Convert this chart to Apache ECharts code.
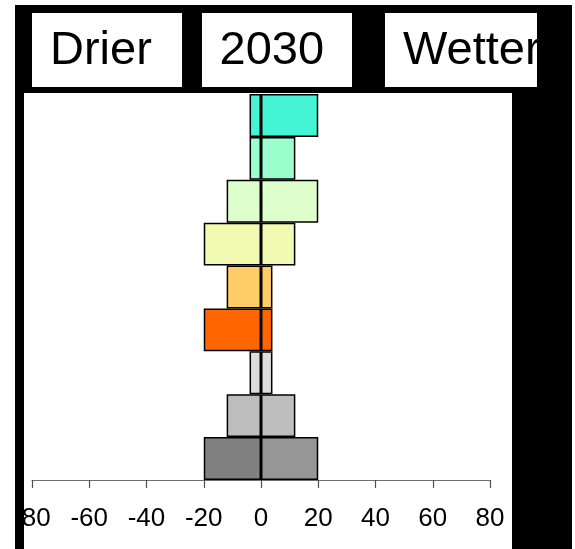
<!DOCTYPE html>
<html>
<head>
<meta charset="utf-8">
<script src="https://cdn.jsdelivr.net/npm/echarts@6/dist/echarts.min.js"></script>
<style>
  html, body { margin: 0; padding: 0; background: #ffffff; }
  #chart { width: 575px; height: 549px; }
</style>
</head>
<body>
<div id="chart"></div>
<script>
// Rows listed top to bottom
const rows = ['1', '2', '3', '4', '5', '6', '7', '8', '9'];
// Share of projections pointing drier (left) and wetter (right), per row
const drierValues = [-4, -4, -12, -20, -12, -20, -4, -12, -20];
const wetterValues = [20, 12, 20, 12, 4, 4, 4, 12, 20];
// Fill colours per row
const drierColors = ['#44F4D4', '#99FFCC', '#DDFFCC', '#F2F9B0', '#FFCC66', '#FF6600', '#DDDDDD', '#BEBEBE', '#808080'];
const wetterColors = ['#44F4D4', '#99FFCC', '#DDFFCC', '#F2F9B0', '#FFCC66', '#FF6600', '#DDDDDD', '#BEBEBE', '#969696'];
// Header labels
const headers = ['Drier', '2030', 'Wetter'];
const xTicks = [-80, -60, -40, -20, 0, 20, 40, 60, 80];

const chart = echarts.init(document.getElementById('chart'), null, { renderer: 'canvas' });

const font = '"Liberation Sans", Arial, sans-serif';

function barSeries(name, values, colors) {
  return {
    name: name,
    type: 'bar',
    stack: 'rows',
    barCategoryGap: 0,
    barWidth: '100%',
    data: values.map((v, i) => ({
      value: v,
      itemStyle: { color: colors[i] }
    })),
    itemStyle: { borderColor: '#000000', borderWidth: 1.5 },
    emphasis: { disabled: true },
    z: 2
  };
}

chart.setOption({
  animation: false,
  backgroundColor: '#ffffff',
  grid: { left: 32, right: 85, top: 94, bottom: 69, containLabel: false },
  xAxis: {
    type: 'value',
    min: xTicks[0],
    max: xTicks[xTicks.length - 1],
    interval: 20,
    axisLine: { show: true, onZero: false, lineStyle: { color: '#707070', width: 1.2 } },
    axisTick: { show: true, length: 8, lineStyle: { color: '#505050', width: 1.2 } },
    axisLabel: {
      show: true,
      color: '#000000',
      fontFamily: font,
      fontSize: 26,
      margin: 26,
      // plain hyphen-minus for negative ticks
      formatter: (v) => String(v)
    },
    splitLine: { show: false }
  },
  yAxis: {
    type: 'category',
    data: rows,
    inverse: true,
    show: false,
    boundaryGap: true
  },
  series: [
    barSeries('Drier', drierValues, drierColors),
    barSeries('Wetter', wetterValues, wetterColors)
  ],
  graphic: [
    // dark frame behind everything
    { type: 'rect', z: -10, shape: { x: 15, y: 5, width: 557, height: 544 }, style: { fill: '#000000' } },
    // plotting panel
    { type: 'rect', z: -9, shape: { x: 24, y: 93, width: 488, height: 456 }, style: { fill: '#ffffff' } },
    // header boxes
    { type: 'rect', z: -9, shape: { x: 32, y: 13, width: 150, height: 74 }, style: { fill: '#ffffff' } },
    { type: 'rect', z: -9, shape: { x: 202, y: 13, width: 150, height: 74 }, style: { fill: '#ffffff' } },
    { type: 'rect', z: -9, shape: { x: 385, y: 13, width: 152, height: 74 }, style: { fill: '#ffffff' } },
    { type: 'text', z: -8, x: 50, y: 51, style: { text: headers[0], fill: '#000000', font: '47px ' + font, textAlign: 'left', textVerticalAlign: 'middle' } },
    { type: 'text', z: -8, x: 219.5, y: 51, style: { text: headers[1], fill: '#000000', font: '47px ' + font, textAlign: 'left', textVerticalAlign: 'middle' } },
    { type: 'text', z: -8, x: 403, y: 51, style: { text: headers[2], fill: '#000000', font: '47px ' + font, textAlign: 'left', textVerticalAlign: 'middle' } },
    // frame edges and page margin drawn on a higher layer, over the labels they cut off
    { type: 'rect', zlevel: 1, z: 100, shape: { x: 0, y: 0, width: 15, height: 549 }, style: { fill: '#ffffff' } },
    { type: 'rect', zlevel: 1, z: 100, shape: { x: 15, y: 5, width: 9, height: 544 }, style: { fill: '#000000' } },
    { type: 'rect', zlevel: 1, z: 100, shape: { x: 512, y: 93, width: 60, height: 456 }, style: { fill: '#000000' } },
    { type: 'rect', zlevel: 1, z: 100, shape: { x: 537, y: 5, width: 35, height: 88 }, style: { fill: '#000000' } }
  ]
});
</script>
</body>
</html>
